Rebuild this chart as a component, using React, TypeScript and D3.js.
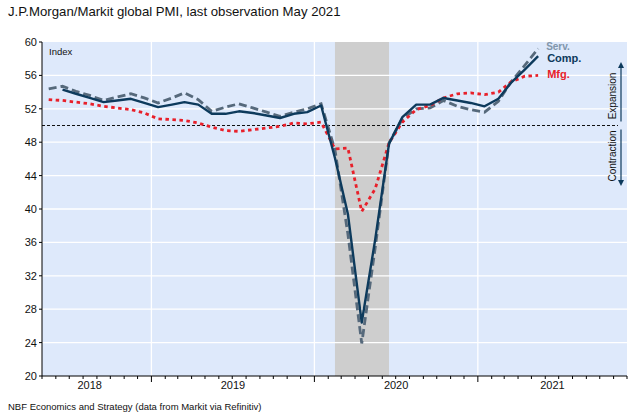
import React from "react";
import * as d3 from "d3";

// ---- Data (monthly, J.P.Morgan/Markit global PMI) ----
const servStart = "2018-05";
const servValues = [
  54.4, 54.7, 54.1, 53.6, 53.0, 53.4, 53.8, 53.3, 52.7, 53.3, 53.9, 53.1,
  51.7, 52.2, 52.6, 52.1, 51.6, 51.1, 51.6, 52.0, 52.6, 47.1, 37.0, 23.9,
  35.3, 47.9, 50.8, 52.0, 52.1, 53.0, 52.3, 51.9, 51.6, 52.9, 55.2, 57.2, 59.2,
];
const compStart = "2018-06";
const compValues = [
  54.3, 53.8, 53.3, 52.8, 53.0, 53.2, 52.7, 52.2, 52.5, 52.8, 52.5, 51.4,
  51.4, 51.7, 51.5, 51.2, 50.9, 51.4, 51.6, 52.4, 46.1, 39.4, 26.4, 36.3,
  47.8, 51.0, 52.5, 52.5, 53.3, 53.0, 52.7, 52.3, 53.2, 55.1, 56.7, 58.3,
];
const mfgStart = "2018-05";
const mfgValues = [
  53.1, 53.0, 52.8, 52.6, 52.3, 52.1, 51.9, 51.5, 50.8, 50.7, 50.6, 50.3,
  49.8, 49.4, 49.3, 49.5, 49.7, 49.9, 50.3, 50.2, 50.4, 47.2, 47.3, 39.7,
  42.4, 47.9, 50.4, 51.9, 52.4, 53.3, 53.8, 53.9, 53.7, 54.0, 55.2, 55.9, 56.0,
];
const yTicks = [20, 24, 28, 32, 36, 40, 44, 48, 52, 56, 60];
const yearLabels = ["2018", "2019", "2020", "2021"];
const recession = ["2020-02", "2020-06"];
const axisDomain = ["2018-05", "2021-12"];
const seriesLabels = ["Serv.", "Comp.", "Mfg."];

const parseMonth = d3.timeParse("%Y-%m");
const mid = (d: Date) => new Date(d.getFullYear(), d.getMonth(), 16);

function buildSeries(start: string, values: number[]) {
  const s = parseMonth(start)!;
  return values.map((v, i) => ({ date: mid(d3.timeMonth.offset(s, i)), value: v }));
}

const W = 639;
const H = 414;
const L = 42;
const R = 627;
const T = 42;
const B = 376;

const FONT = "'Liberation Sans', Arial, sans-serif";

export default function App() {
  const x = d3
    .scaleTime()
    .domain([parseMonth(axisDomain[0])!, parseMonth(axisDomain[1])!])
    .range([L, R]);
  const y = d3.scaleLinear().domain([20, 60]).range([B, T]);

  const serv = buildSeries(servStart, servValues);
  const comp = buildSeries(compStart, compValues);
  const mfg = buildSeries(mfgStart, mfgValues);

  const line = d3
    .line<{ date: Date; value: number }>()
    .x((d) => x(d.date))
    .y((d) => y(d.value));

  const months = d3.timeMonth.range(x.domain()[0], d3.timeMonth.offset(x.domain()[1], 1));
  const yearStarts = months.filter((m) => m.getMonth() === 0);

  const recX0 = x(mid(parseMonth(recession[0])!));
  const recX1 = x(mid(parseMonth(recession[1])!));

  const lastServ = serv[serv.length - 1];
  const lastComp = comp[comp.length - 1];
  const lastMfg = mfg[mfg.length - 1];

  const y50 = y(50);
  const arrowX = 621;

  return (
    <svg
      width={W}
      height={H}
      style={{ position: "absolute", left: 0, top: 0, background: "#fff" }}
      fontFamily={FONT}
    >
      <defs>
        <marker id="arr" viewBox="0 0 10 10" refX="5" refY="5" markerWidth="5" markerHeight="6" orient="auto-start-reverse">
          <path d="M0,0 L10,5 L0,10 z" fill="#0d3a5c" />
        </marker>
      </defs>
      <text x={8} y={16} fontSize={13.2} fill="#111">
        J.P.Morgan/Markit global PMI, last observation May 2021
      </text>

      {/* plot background */}
      <rect x={L} y={T} width={R - L} height={B - T} fill="#dee9fb" />
      {/* recession band */}
      <rect x={recX0} y={T} width={recX1 - recX0} height={B - T} fill="#cecece" />

      {/* horizontal gridlines */}
      {yTicks.filter((t) => t > 20 && t < 60).map((t) => (
        <line key={t} x1={L} x2={R} y1={y(t)} y2={y(t)} stroke="#ffffff" strokeWidth={1.3} />
      ))}
      {/* vertical gridlines at year boundaries */}
      {yearStarts.map((d) => (
        <line key={+d} x1={x(d)} x2={x(d)} y1={T} y2={B} stroke="#ffffff" strokeWidth={1.3} />
      ))}

      {/* 50 line */}
      <line x1={L} x2={618} y1={y50} y2={y50} stroke="#111" strokeWidth={1} strokeDasharray="3,2" />

      {/* series */}
      <path d={line(serv)!} fill="none" stroke="#56697b" strokeWidth={2.8} strokeDasharray="8,4" />
      <path d={line(mfg)!} fill="none" stroke="#e8202a" strokeWidth={2.8} strokeDasharray="3.5,3.5" />
      <path d={line(comp)!} fill="none" stroke="#0d3a5c" strokeWidth={2.4} strokeLinejoin="round" />

      {/* series labels */}
      <text x={x(lastServ.date) + 8} y={49.5} fontSize={10} fontWeight="bold" fill="#8196ab">
        {seriesLabels[0]}
      </text>
      <text x={x(lastComp.date) + 9} y={62} fontSize={11} fontWeight="bold" fill="#0d3a5c">
        {seriesLabels[1]}
      </text>
      <text x={x(lastMfg.date) + 9} y={77.5} fontSize={11} fontWeight="bold" fill="#e8202a">
        {seriesLabels[2]}
      </text>

      {/* Index label */}
      <text x={49} y={55} fontSize={9.5} fill="#111">
        Index
      </text>

      {/* Expansion / Contraction annotation */}
      <line x1={arrowX} x2={arrowX} y1={y50 - 4} y2={65} stroke="#0d3a5c" strokeWidth={1.2} markerEnd="url(#arr)" />
      <line x1={arrowX} x2={arrowX} y1={y50 + 4} y2={183} stroke="#0d3a5c" strokeWidth={1.2} markerEnd="url(#arr)" />
      <text transform={`translate(616,96) rotate(-90)`} textAnchor="middle" fontSize={10} fill="#111">
        Expansion
      </text>
      <text transform={`translate(616,156) rotate(-90)`} textAnchor="middle" fontSize={10} fill="#111">
        Contraction
      </text>

      {/* y axis */}
      <line x1={L} x2={L} y1={T} y2={B} stroke="#000" strokeWidth={1} />
      {yTicks.map((t) => (
        <g key={t}>
          <line x1={L - 3} x2={L} y1={y(t)} y2={y(t)} stroke="#000" />
          <text x={L - 5} y={y(t) + 4} textAnchor="end" fontSize={11} fill="#111">
            {t}
          </text>
        </g>
      ))}

      {/* x axis */}
      <line x1={L} x2={R} y1={B} y2={B} stroke="#000" strokeWidth={1} />
      {months.map((m) => (
        <line
          key={+m}
          x1={x(m)}
          x2={x(m)}
          y1={B}
          y2={B + (m.getMonth() === 0 ? 6 : 3)}
          stroke="#000"
        />
      ))}
      {yearLabels.map((yl, i) => {
        const y0 = d3.max([new Date(+yl, 0, 1), x.domain()[0]])!;
        const y1 = d3.min([new Date(+yl + 1, 0, 1), x.domain()[1]])!;
        const cx = (x(y0) + x(y1)) / 2 - (i === 0 ? 7 : 0);
        return (
          <text key={yl} x={cx} y={389} textAnchor="middle" fontSize={11} fill="#111">
            {yl}
          </text>
        );
      })}

      <text x={8} y={410} fontSize={9.5} fill="#111">
        NBF Economics and Strategy (data from Markit via Refinitiv)
      </text>
    </svg>
  );
}
